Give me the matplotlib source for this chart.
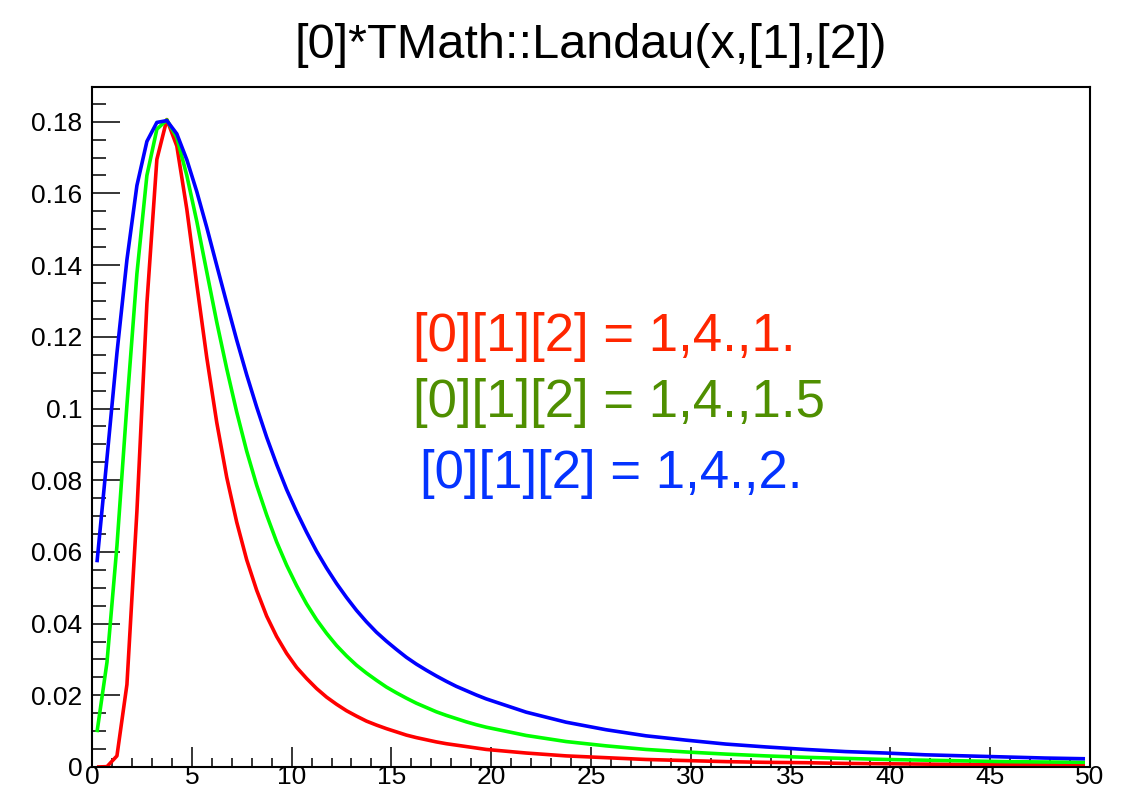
import matplotlib
matplotlib.use("Agg")
import matplotlib.pyplot as plt
from matplotlib.ticker import FixedLocator, FixedFormatter, MultipleLocator

plt.rcParams['font.family'] = ['Liberation Sans', 'DejaVu Sans']

# Sample points of the function graph (bin centres, coarser in the far tail)
x_vals = [0.25, 0.75, 1.25, 1.75, 2.25, 2.75, 3.25, 3.75, 4.25, 4.75,
          5.25, 5.75, 6.25, 6.75, 7.25, 7.75, 8.25, 8.75, 9.25, 9.75,
          10.25, 10.75, 11.25, 11.75, 12.25, 12.75, 13.25, 13.75, 14.25, 14.75,
          15.25, 15.75, 16.25, 16.75, 17.25, 17.75, 18.25, 18.75, 19.25, 19.75,
          21.75, 23.75, 25.75, 27.75, 29.75, 31.75, 33.75, 35.75, 37.75, 39.75,
          41.75, 43.75, 45.75, 47.75, 49.75]

# [0][1][2] = 1, 4., 1.
landau_s1 = [0.0, 0.0001, 0.0031, 0.0230, 0.0713, 0.1293, 0.1695, 0.1806, 0.1732, 0.1556,
             0.1346, 0.1142, 0.0961, 0.0808, 0.0683, 0.0578, 0.0493, 0.0421, 0.0364, 0.0317,
             0.0278, 0.0247, 0.0219, 0.0195, 0.0175, 0.0157, 0.0142, 0.0128, 0.0117, 0.0107,
             0.0098, 0.0089, 0.0082, 0.0076, 0.0070, 0.0065, 0.0061, 0.0057, 0.0053, 0.0049,
             0.0039, 0.0031, 0.0026, 0.0021, 0.0018, 0.0015, 0.0013, 0.0012, 0.0010, 0.0009,
             0.0008, 0.0007, 0.00066, 0.0006, 0.00054]

# [0][1][2] = 1, 4., 1.5
landau_s15 = [0.0097, 0.0292, 0.0617, 0.1010, 0.1376, 0.1650, 0.1779, 0.1805, 0.1756, 0.1650,
              0.1522, 0.1381, 0.1241, 0.1111, 0.0990, 0.0881, 0.0786, 0.0703, 0.0628, 0.0563,
              0.0506, 0.0455, 0.0411, 0.0373, 0.0339, 0.0310, 0.0284, 0.0262, 0.0242, 0.0223,
              0.0207, 0.0192, 0.0178, 0.0166, 0.0154, 0.0144, 0.0135, 0.0126, 0.0118, 0.0111,
              0.0088, 0.0071, 0.0059, 0.0049, 0.0042, 0.0036, 0.0031, 0.0027, 0.0024, 0.0021,
              0.0019, 0.0017, 0.0015, 0.0014, 0.0013]

# [0][1][2] = 1, 4., 2.
landau_s2 = [0.0571, 0.0861, 0.1155, 0.1415, 0.1622, 0.1745, 0.1798, 0.1803, 0.1766, 0.1694,
             0.1605, 0.1505, 0.1399, 0.1294, 0.1191, 0.1094, 0.1004, 0.0920, 0.0844, 0.0774,
             0.0712, 0.0655, 0.0602, 0.0555, 0.0512, 0.0473, 0.0437, 0.0405, 0.0376, 0.0351,
             0.0328, 0.0306, 0.0287, 0.0270, 0.0254, 0.0239, 0.0225, 0.0213, 0.0201, 0.0190,
             0.0153, 0.0125, 0.0104, 0.0087, 0.0075, 0.0064, 0.0056, 0.0049, 0.0043, 0.0039,
             0.0034, 0.0031, 0.0028, 0.0025, 0.0023]

x_ticks = [0, 5, 10, 15, 20, 25, 30, 35, 40, 45, 50]
x_tick_labels = ['0', '5', '10', '15', '20', '25', '30', '35', '40', '45', '50']
y_ticks = [0, 0.02, 0.04, 0.06, 0.08, 0.10, 0.12, 0.14, 0.16, 0.18]
y_tick_labels = ['0', '0.02', '0.04', '0.06', '0.08', '0.1', '0.12', '0.14', '0.16', '0.18']

title = '[0]*TMath::Landau(x,[1],[2])'
labels = ['[0][1][2] = 1,4.,1.', '[0][1][2] = 1,4.,1.5', '[0][1][2] = 1,4.,2.']
line_colors = ['#ff0000', '#00ff00', '#0000ff']
text_colors = ['#ff2600', '#4f8f00', '#0433ff']

W, H = 1132, 794
fig = plt.figure(figsize=(W / 100, H / 100), dpi=100)
fig.patch.set_facecolor('white')
ax = fig.add_axes([92 / W, 1 - 767 / H, 998 / W, 680 / H])

for ys, c in zip([landau_s1, landau_s15, landau_s2], line_colors):
    ax.plot(x_vals, ys, color=c, lw=2.6, solid_joinstyle='round', solid_capstyle='butt')

ax.set_xlim(0, 50)
ax.set_ylim(0, 0.18968)

ax.xaxis.set_major_locator(FixedLocator(x_ticks))
ax.xaxis.set_major_formatter(FixedFormatter(x_tick_labels))
ax.xaxis.set_minor_locator(MultipleLocator(1))
ax.yaxis.set_major_locator(FixedLocator(y_ticks))
ax.yaxis.set_major_formatter(FixedFormatter(y_tick_labels))
ax.yaxis.set_minor_locator(MultipleLocator(0.005))

ax.tick_params(which='both', direction='in', top=False, right=False,
               width=1.1, color='black', labelcolor='black')
ax.tick_params(axis='y', which='major', length=20, pad=7, labelsize=19)
ax.tick_params(axis='y', which='minor', length=10)
ax.tick_params(axis='x', which='major', length=14.5, pad=-1.8, labelsize=19)
ax.tick_params(axis='x', which='minor', length=6.5)

for s in ax.spines.values():
    s.set_linewidth(1.5)
    s.set_color('black')

fig.text(591 / W, 1 - 45 / H, title, ha='center', va='center', fontsize=35, color='black')

text_pos = [(413, 336.7), (413, 403), (419.5, 474)]
for (px, py), lab, c in zip(text_pos, labels, text_colors):
    fig.text(px / W, 1 - py / H, lab, ha='left', va='center', fontsize=38, color=c)

fig.savefig('out.png', dpi=100)
